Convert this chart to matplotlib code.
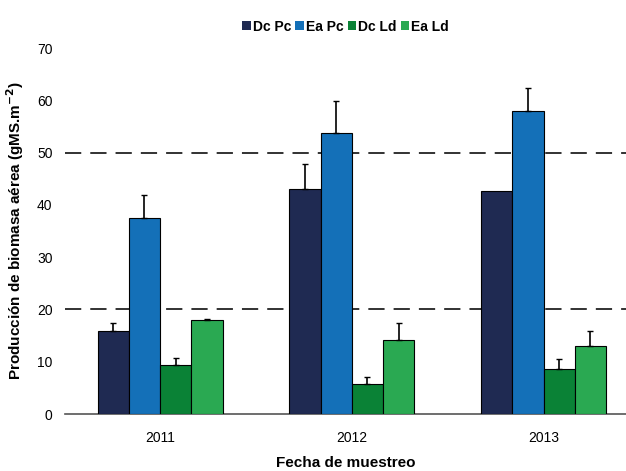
import numpy as np
import matplotlib.pyplot as plt

plt.rcParams['font.family'] = ['Liberation Sans', 'DejaVu Sans']

# Data
years = ['2011', '2012', '2013']
series = ['Dc Pc', 'Ea Pc', 'Dc Ld', 'Ea Ld']
dc_pc = [15.9, 43.1, 42.7]
ea_pc = [37.4, 53.8, 57.9]
dc_ld = [9.4, 5.7, 8.6]
ea_ld = [18.0, 14.2, 13.0]
dc_pc_err = [1.5, 4.8, 0.0]
ea_pc_err = [4.4, 6.0, 4.5]
dc_ld_err = [1.3, 1.4, 1.9]
ea_ld_err = [0.2, 3.2, 2.9]
ref_lines = [20, 50]

colors = ['#1f2a52', '#1470b8', '#0a8236', '#2aa952']
values = [dc_pc, ea_pc, dc_ld, ea_ld]
errors = [dc_pc_err, ea_pc_err, dc_ld_err, ea_ld_err]

fig = plt.figure(figsize=(6.26, 4.71), dpi=100)
ax = fig.add_axes([0.104, 0.121, 0.896, 0.777])

x = np.arange(len(years))
w = 0.163
for i, (name, vals, errs, c) in enumerate(zip(series, values, errors, colors)):
    pos = x + (i - 1.5) * w
    ax.bar(pos, vals, width=w, color=c, edgecolor='black', linewidth=0.8,
           label=name, zorder=3)
    # only draw the error bars that are visible
    keep = np.array(errs) > 0
    ax.errorbar(pos[keep], np.array(vals)[keep],
                yerr=[np.zeros(keep.sum()), np.array(errs)[keep]], fmt='none',
                ecolor='black', elinewidth=1.2, capsize=2.5, zorder=4)

for y in ref_lines:
    ax.axhline(y, color='#222222', linestyle=(0, (9, 5)), linewidth=1.3, zorder=1)

ax.set_xlim(-0.495, 2.43)
ax.set_ylim(0, 70)
ax.set_yticks(range(0, 71, 10))
ax.set_xticks(x)
ax.set_xticklabels(years)
ax.tick_params(axis='both', length=0, labelsize=10)
ax.tick_params(axis='y', pad=9)
ax.tick_params(axis='x', pad=12)
for s in ['top', 'right', 'left']:
    ax.spines[s].set_visible(False)
ax.spines['bottom'].set_color('#555555')
ax.spines['bottom'].set_linewidth(1.2)

ax.set_ylabel('Producción de biomasa aérea (gMS.m$^{\\mathbf{-2}}$)', fontsize=11,
              fontweight='bold', labelpad=8)
ax.set_xlabel('Fecha de muestreo', fontsize=11, fontweight='bold', labelpad=8)

leg = fig.legend(loc='upper center', bbox_to_anchor=(0.552, 0.985), ncol=4,
                 frameon=False, handlelength=0.6, handleheight=0.6,
                 handletextpad=0.15, columnspacing=0.3,
                 prop={'weight': 'bold', 'size': 10})
for h in leg.legend_handles:
    h.set_edgecolor('none')

fig.savefig('out.png', dpi=100)
